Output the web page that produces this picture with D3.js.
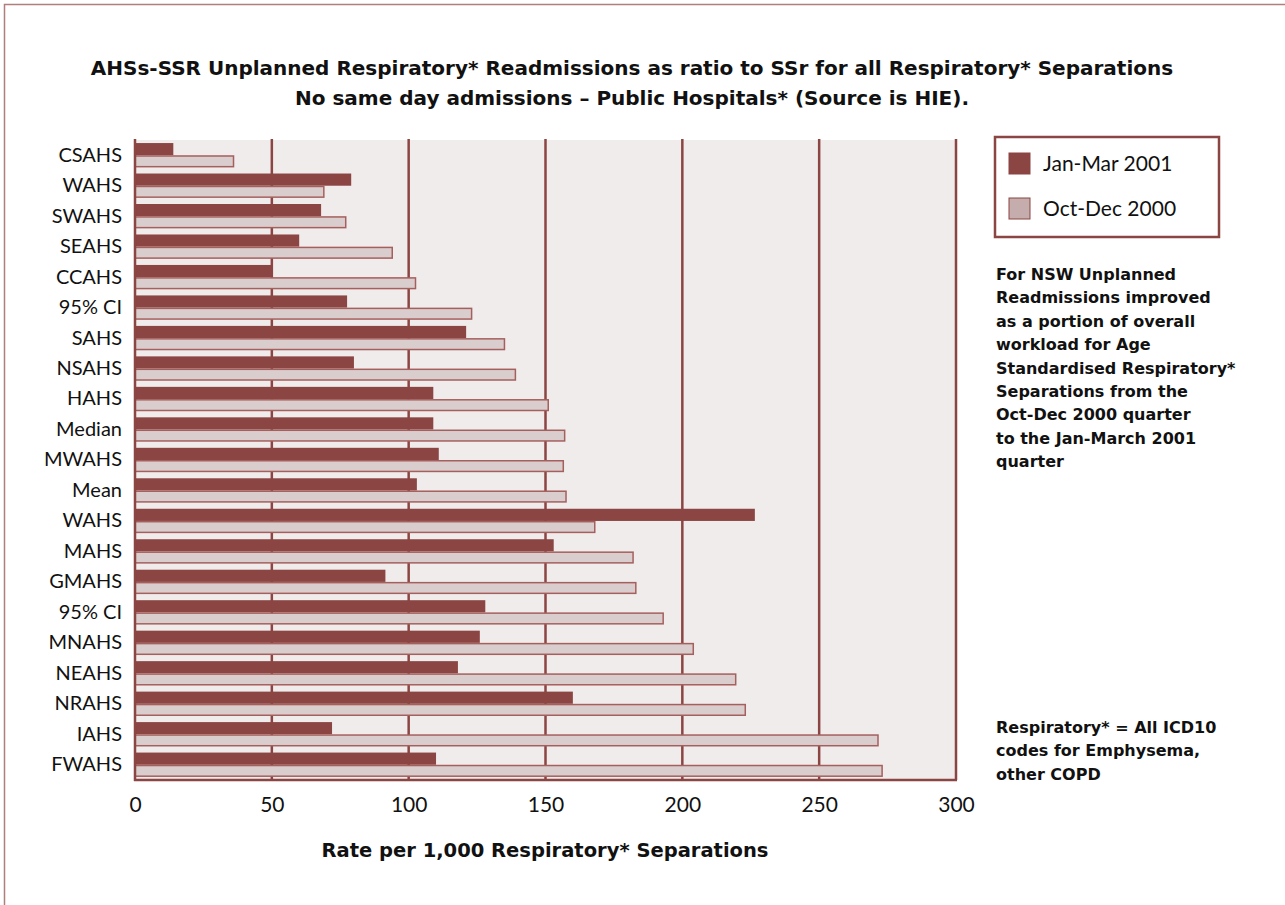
<!DOCTYPE html>
<html>
<head>
<meta charset="utf-8">
<script src="https://cdn.jsdelivr.net/npm/d3@7"></script>
<style>
  body { margin: 0; background: #fff; }
  text { font-family: Lato, "Open Sans", sans-serif; fill: #111; }
  .bold { font-family: "DejaVu Sans", sans-serif; font-weight: bold; }
</style>
</head>
<body>
<svg width="1285" height="905"></svg>
<script>
// data, top row first
var categories = ["CSAHS", "WAHS", "SWAHS", "SEAHS", "CCAHS", "95% CI", "SAHS", "NSAHS", "HAHS",
  "Median", "MWAHS", "Mean", "WAHS", "MAHS", "GMAHS", "95% CI", "MNAHS", "NEAHS", "NRAHS", "IAHS", "FWAHS"];
var janMar2001 = [14, 79, 68, 60, 50, 77.5, 121, 80, 109, 109, 111, 103, 226.5, 153, 91.5, 128, 126, 118, 160, 72, 110];
var octDec2000 = [36, 69, 77, 94, 102.5, 123, 135, 139, 151, 157, 156.5, 157.5, 168, 182, 183, 193, 204, 219.5, 223, 271.5, 273];
var seriesNames = ["Jan-Mar 2001", "Oct-Dec 2000"];
var xTicks = [0, 50, 100, 150, 200, 250, 300];

var dark = "#8b4543";
var lightFill = "#d9cdcd";

var svg = d3.select("svg");

// thin frame on the top and left edge of the page
svg.append("path")
  .attr("d", "M4.5,905V4.5H1285")
  .attr("fill", "none")
  .attr("stroke", "#b07f7d")
  .attr("stroke-width", 1.5);

// plot box (note: "top" is taken by window.top, so use other names)
var plotL = 135, plotR = 956, plotT = 140, plotB = 780;

var xScale = d3.scaleLinear().domain([0, 300]).range([plotL, plotR]);

// index domain since some labels repeat (WAHS, 95% CI)
var yScale = d3.scaleBand()
  .domain(d3.range(categories.length))
  .range([plotT, plotB])
  .paddingInner(0.2)
  .paddingOuter(0.1);

var subScale = d3.scaleBand().domain(seriesNames).range([0, yScale.bandwidth()]);

// plot background
svg.append("rect")
  .attr("x", plotL).attr("y", plotT)
  .attr("width", plotR - plotL).attr("height", plotB - plotT)
  .attr("fill", "#f0ecec");

// vertical grid lines
svg.append("g")
  .selectAll("line")
  .data(xTicks.slice(1))
  .enter()
  .append("line")
  .attr("x1", function(d) { return xScale(d); })
  .attr("x2", function(d) { return xScale(d); })
  .attr("y1", plotT - 1)
  .attr("y2", plotB)
  .attr("stroke", dark)
  .attr("stroke-width", 2.5);

var rows = categories.map(function(c, i) { return {i: i, jan: janMar2001[i], oct: octDec2000[i]}; });

// Jan-Mar bars (top of each pair)
svg.append("g").selectAll("rect")
  .data(rows)
  .enter()
  .append("rect")
  .attr("x", xScale(0))
  .attr("y", function(d) { return yScale(d.i) + subScale(seriesNames[0]); })
  .attr("width", function(d) { return xScale(d.jan) - xScale(0); })
  .attr("height", subScale.bandwidth())
  .attr("fill", dark);

// Oct-Dec bars (bottom of each pair)
svg.append("g").selectAll("rect")
  .data(rows)
  .enter()
  .append("rect")
  .attr("x", xScale(0))
  .attr("y", function(d) { return yScale(d.i) + subScale(seriesNames[1]) + 0.75; })
  .attr("width", function(d) { return xScale(d.oct) - xScale(0); })
  .attr("height", subScale.bandwidth() - 1.5)
  .attr("fill", lightFill)
  .attr("stroke", "#a5605e")
  .attr("stroke-width", 1.5);

// left axis with category names
svg.append("g")
  .attr("transform", "translate(" + plotL + ",0)")
  .call(d3.axisLeft(yScale).tickSize(0).tickPadding(13).tickFormat(function(i) { return categories[i]; }))
  .call(function(g) {
    g.select(".domain").attr("stroke", dark).attr("stroke-width", 2.5)
      .attr("d", "M0," + (plotT - 1) + "V" + (plotB + 1));
    g.selectAll("text").style("font-size", "20px").attr("fill", "#111").style("font-family", "Lato");
  });

// bottom axis
svg.append("g")
  .attr("transform", "translate(0," + plotB + ")")
  .call(d3.axisBottom(xScale).tickValues(xTicks).tickSize(0).tickPadding(17))
  .call(function(g) {
    g.select(".domain").attr("stroke", dark).attr("stroke-width", 2.5)
      .attr("d", "M" + (plotL - 1) + ",0H" + (plotR + 1));
    g.selectAll("text").style("font-size", "21px").attr("fill", "#111").style("font-family", "Lato");
  });

// title
svg.append("text")
  .attr("class", "bold")
  .attr("x", 632).attr("y", 75)
  .attr("text-anchor", "middle")
  .style("font-size", "20px")
  .text("AHSs-SSR Unplanned Respiratory* Readmissions as ratio to SSr for all Respiratory* Separations");
svg.append("text")
  .attr("class", "bold")
  .attr("x", 632).attr("y", 105)
  .attr("text-anchor", "middle")
  .style("font-size", "20px")
  .text("No same day admissions \u2013 Public Hospitals* (Source is HIE).");

// axis title
svg.append("text")
  .attr("class", "bold")
  .attr("x", 545).attr("y", 857)
  .attr("text-anchor", "middle")
  .style("font-size", "19.5px")
  .text("Rate per 1,000 Respiratory* Separations");

// legend
var legend = svg.append("g").attr("transform", "translate(995,137)");
legend.append("rect")
  .attr("width", 224).attr("height", 100)
  .attr("fill", "#fff").attr("stroke", dark).attr("stroke-width", 2.5);
var legendFills = ["#8b4543", "#c4adac"];
seriesNames.forEach(function(s, i) {
  legend.append("rect")
    .attr("x", 14).attr("y", 16 + i * 45)
    .attr("width", 21).attr("height", 21)
    .attr("fill", legendFills[i])
    .attr("stroke", dark).attr("stroke-width", 1);
  legend.append("text")
    .attr("x", 48).attr("y", 34 + i * 45)
    .style("font-size", "21px")
    .text(s);
});

// side notes
var note1 = ["For NSW Unplanned", "Readmissions improved", "as a portion of overall", "workload for Age",
  "Standardised Respiratory*", "Separations from the", "Oct-Dec 2000 quarter", "to the Jan-March 2001", "quarter"];
var note2 = ["Respiratory* = All ICD10", "codes for Emphysema,", "other COPD"];

function writeNote(lines, y0) {
  svg.append("g").selectAll("text")
    .data(lines)
    .enter()
    .append("text")
    .attr("class", "bold")
    .attr("x", 996)
    .attr("y", function(d, i) { return y0 + i * 23.4; })
    .style("font-size", "16px")
    .text(function(d) { return d; });
}
writeNote(note1, 280);
writeNote(note2, 733);
</script>
</body>
</html>
